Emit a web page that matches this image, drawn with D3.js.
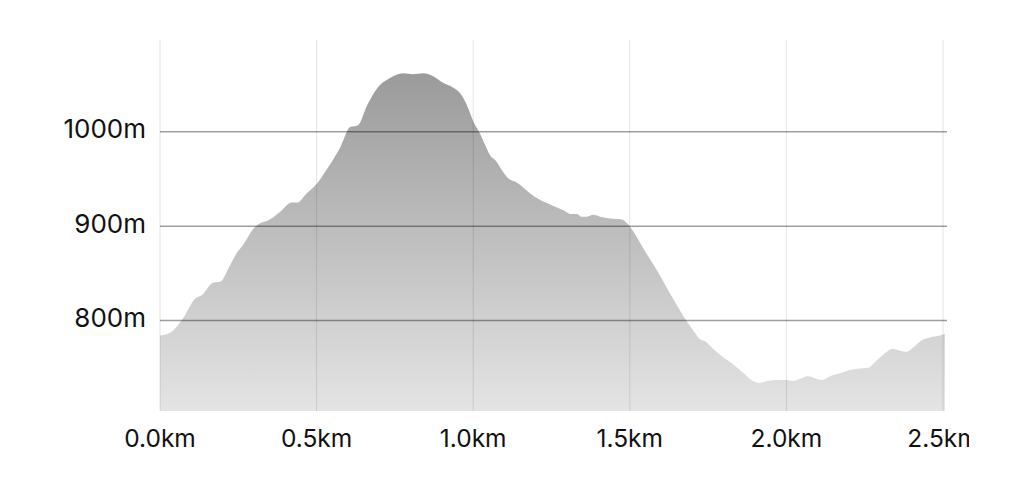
<!DOCTYPE html>
<html>
<head>
<meta charset="utf-8">
<script src="https://cdn.jsdelivr.net/npm/d3@7"></script>
<style>
  html, body { margin: 0; padding: 0; background: #fff; }
  svg { display: block; }
</style>
</head>
<body>
<svg id="chart" width="1024" height="498"></svg>
<script>
// distance along route (km)
const distanceKm = [
  0.000, 0.032, 0.057, 0.073, 0.112, 0.134, 0.169, 0.192, 0.223, 0.246,
  0.265, 0.303, 0.319, 0.345, 0.383, 0.421, 0.437, 0.469, 0.501, 0.520,
  0.552, 0.575, 0.607, 0.632, 0.661, 0.693, 0.734, 0.776, 0.808, 0.840,
  0.872, 0.904, 0.935, 0.958, 0.990, 0.999, 1.022, 1.038, 1.054, 1.070,
  1.092, 1.111, 1.140, 1.181, 1.207, 1.252, 1.287, 1.309, 1.331, 1.347,
  1.363, 1.383, 1.405, 1.437, 1.475, 1.491, 1.510, 1.542, 1.587, 1.628,
  1.667, 1.686, 1.708, 1.724, 1.740, 1.766, 1.798, 1.829, 1.861, 1.893,
  1.916, 1.938, 1.970, 2.002, 2.021, 2.043, 2.069, 2.114, 2.139, 2.171,
  2.210, 2.235, 2.261, 2.289, 2.321, 2.340, 2.363, 2.385, 2.404, 2.433,
  2.459, 2.490, 2.506
];
// elevation (m)
const elevationM = [
  784, 787, 795, 802, 823, 827, 840, 841, 858, 872,
  880, 899, 903, 906, 915, 925, 925, 935, 945, 954,
  970, 983, 1005, 1007, 1028, 1046, 1057, 1062, 1061, 1062,
  1059, 1052, 1047, 1041, 1020, 1012, 998, 986, 975, 970,
  959, 951, 946, 935, 929, 922, 917, 913, 913, 910,
  910, 912, 910, 908, 907, 903, 895, 877, 853, 829,
  807, 797, 787, 780, 778, 770, 761, 754, 745, 736,
  734, 736, 737, 737, 736, 738, 741, 737, 741, 744,
  748, 749, 750, 758, 767, 770, 768, 767, 771, 779,
  782, 784, 786
];
const xTicks = [0, 0.5, 1.0, 1.5, 2.0, 2.5];
const xTickLabels = ["0.0km", "0.5km", "1.0km", "1.5km", "2.0km", "2.5km"];
const yTicks = [800, 900, 1000];
const yTickLabels = ["800m", "900m", "1000m"];

const data = distanceKm.map((d, i) => ({ x: d, y: elevationM[i] }));

const svg = d3.select("#chart");
const plotLeft = 160, plotRight = 947, plotTop = 40, plotBottom = 411;

const x = d3.scaleLinear().domain([0, 2.5]).range([160, 943]);
const y = d3.scaleLinear().domain([800, 1000]).range([320.5, 131.8]);

const defs = svg.append("defs");
const grad = defs.append("linearGradient")
  .attr("id", "fillGrad")
  .attr("gradientUnits", "userSpaceOnUse")
  .attr("x1", 0).attr("x2", 0)
  .attr("y1", 70).attr("y2", plotBottom);
grad.append("stop").attr("offset", "0%").attr("stop-color", "#9a9a9a");
grad.append("stop").attr("offset", "100%").attr("stop-color", "#e4e4e4");

defs.append("clipPath").attr("id", "textClip")
  .append("rect").attr("x", 0).attr("y", 0).attr("width", 969).attr("height", 498);

// area
const area = d3.area()
  .x(d => x(d.x))
  .y0(plotBottom)
  .y1(d => y(d.y))
  .curve(d3.curveMonotoneX);

svg.append("path")
  .datum(data)
  .attr("d", area)
  .attr("fill", "url(#fillGrad)");

// vertical gridlines
svg.append("g")
  .selectAll("line")
  .data(xTicks)
  .join("line")
  .attr("x1", d => x(d)).attr("x2", d => x(d))
  .attr("y1", plotTop).attr("y2", plotBottom)
  .attr("stroke", "rgba(0,0,0,0.11)")
  .attr("stroke-width", 1);

// horizontal gridlines
svg.append("g")
  .selectAll("line")
  .data(yTicks)
  .join("line")
  .attr("x1", plotLeft).attr("x2", plotRight)
  .attr("y1", d => y(d)).attr("y2", d => y(d))
  .attr("stroke", "rgba(0,0,0,0.38)")
  .attr("stroke-width", 1.5);

// y labels
svg.append("g")
  .selectAll("text")
  .data(yTicks)
  .join("text")
  .attr("x", 146)
  .attr("y", d => y(d) - 3)
  .attr("dy", "0.36em")
  .attr("text-anchor", "end")
  .attr("font-family", "Inter, 'Liberation Sans', sans-serif")
  .attr("font-size", 26)
  .attr("fill", "#111")
  .text((d, i) => yTickLabels[i]);

// x labels
svg.append("g")
  .attr("clip-path", "url(#textClip)")
  .selectAll("text")
  .data(xTicks)
  .join("text")
  .attr("x", d => x(d))
  .attr("y", 438)
  .attr("dy", "0.36em")
  .attr("text-anchor", "middle")
  .attr("font-family", "Inter, 'Liberation Sans', sans-serif")
  .attr("font-size", 24.5)
  .attr("fill", "#111")
  .text((d, i) => xTickLabels[i]);
</script>
</body>
</html>
